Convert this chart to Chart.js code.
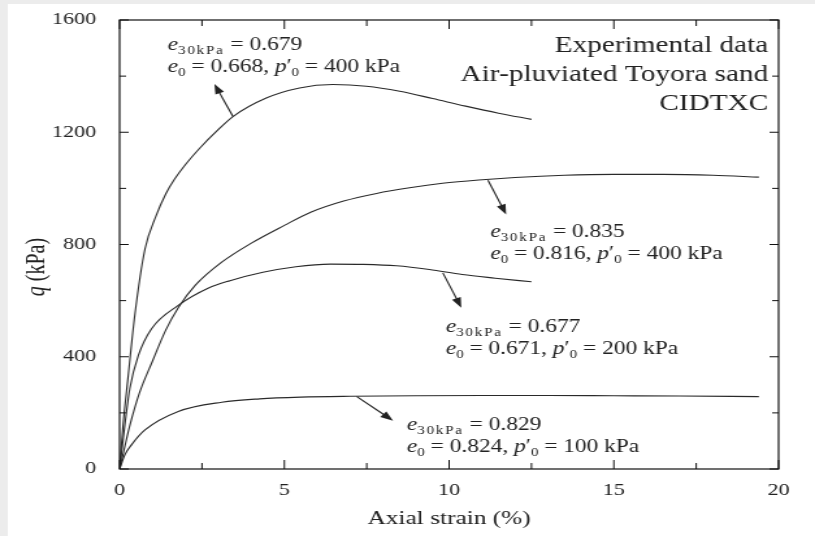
<!DOCTYPE html>
<html>
<head>
<meta charset="utf-8">
<script src="https://cdn.jsdelivr.net/npm/chart.js@4/dist/chart.umd.min.js"></script>
<style>
  html, body { margin: 0; padding: 0; background: #fff; }
  #chart { display: block; }
</style>
</head>
<body>
<!-- drawn at 627 wide and shown at 815 wide: the figure is horizontally stretched -->
<canvas id="chart" width="627" height="536" style="width:815px;height:536px"></canvas>
<script>
// axial strain (%) / deviator stress q (kPa), one pair per test
const strainDense400 = [0, 0.1, 0.26, 0.46, 0.77, 1.1, 1.4, 1.67, 2.0, 2.43, 3.0, 3.44, 4.45, 5.46, 6.47, 7.49, 8.5, 9.5, 10.5, 11.5, 12.5];
const qDense400      = [0, 150, 330, 547, 784, 900, 980, 1033, 1085, 1143, 1210, 1256, 1322, 1358, 1370, 1364, 1346, 1320, 1293, 1268, 1246];

const strainLoose400 = [0, 0.1, 0.3, 0.6, 1.0, 1.4, 1.78, 2.3, 3.1, 4.0, 5.0, 5.8, 6.8, 7.8, 8.8, 9.8, 10.9, 12.0, 13.5, 15.0, 16.5, 18.0, 19.4];
const qLoose400      = [0, 50, 150, 270, 385, 495, 575, 655, 737, 805, 868, 915, 955, 982, 1002, 1018, 1030, 1039, 1047, 1050, 1050, 1047, 1040];

const strainDense200 = [0, 0.16, 0.31, 0.57, 0.97, 1.78, 2.7, 3.35, 4.35, 5.35, 6.4, 7.4, 8.4, 9.4, 10.4, 11.4, 12.5];
const qDense200      = [0, 157, 287, 405, 500, 583, 645, 671, 701, 721, 730, 729, 724, 711, 693, 680, 667];

const strainLoose100 = [0, 0.16, 0.36, 0.77, 1.78, 3.1, 4.25, 5.5, 7.0, 9.0, 11.0, 13.0, 15.0, 17.0, 19.4];
const qLoose100      = [0, 51, 86, 139, 205, 238, 250, 256, 259, 261, 262, 262, 261, 260, 258];

const xTicks = [0, 5, 10, 15, 20];
const yTicks = [0, 400, 800, 1200, 1600];

const headerLines = ['Experimental data', 'Air-pluviated Toyora sand', 'CIDTXC'];

// e30kPa, e0, p'0 for each curve label
const labelE30 = ['0.679', '0.835', '0.677', '0.829'];
const labelE0  = ['0.668', '0.816', '0.671', '0.824'];
const labelP0  = ['400', '400', '200', '100'];

function toPoints(xs, ys) {
    const out = [];
    for (let i = 0; i < xs.length; ++i) {
        out.push({x: xs[i], y: ys[i]});
    }
    return out;
}

const FONT = '"Liberation Serif", "Times New Roman", serif';
const INK = '#222';

function curve(xs, ys) {
    return {
        data: toPoints(xs, ys),
        borderColor: '#2a2a2a',
        borderWidth: 1.1,
        pointRadius: 0,
        cubicInterpolationMode: 'monotone',
        fill: false
    };
}

// label placement in data units: text origin and arrow tail -> head
const notes = [
    {tx: 1.46, ty: 1493, a: [3.44, 1256, 2.88, 1372]},
    {tx: 11.25, ty: 826, a: [11.18, 1029, 11.73, 907]},
    {tx: 9.9, ty: 488, a: [9.81, 699, 10.37, 575]},
    {tx: 8.72, ty: 139, a: [7.2, 258, 8.3, 172]}
];

// text runs: italic letters, subscripts set smaller and a little spaced
function drawRuns(ctx, runs, x, y, size) {
    let cx = x;
    for (const r of runs) {
        const fs = r.sub ? size * 0.64 : size;
        ctx.font = (r.it ? 'italic ' : '') + fs + 'px ' + FONT;
        ctx.letterSpacing = r.sub && r.t.length > 1 ? '1.4px' : '0px';
        ctx.fillText(r.t, cx, y + (r.sub ? size * 0.22 : 0));
        cx += ctx.measureText(r.t).width;
    }
    ctx.letterSpacing = '0px';
}

function drawArrow(ctx, x1, y1, x2, y2) {
    const ang = Math.atan2(y2 - y1, x2 - x1);
    const len = 10, half = 3.6;
    ctx.beginPath();
    ctx.moveTo(x1, y1);
    ctx.lineTo(x2 - Math.cos(ang) * len * 0.8, y2 - Math.sin(ang) * len * 0.8);
    ctx.stroke();
    ctx.beginPath();
    ctx.moveTo(x2, y2);
    ctx.lineTo(x2 - Math.cos(ang) * len - Math.sin(ang) * half, y2 - Math.sin(ang) * len + Math.cos(ang) * half);
    ctx.lineTo(x2 - Math.cos(ang) * len + Math.sin(ang) * half, y2 - Math.sin(ang) * len - Math.cos(ang) * half);
    ctx.closePath();
    ctx.fill();
}

const paperPlugin = {
    id: 'paper',
    beforeDraw(chart) {
        const ctx = chart.ctx;
        ctx.save();
        ctx.fillStyle = '#ececec';
        ctx.fillRect(0, 0, chart.width, chart.height);
        ctx.fillStyle = '#ffffff';
        ctx.fillRect(6, 4, chart.width - 6, chart.height - 4);
        ctx.restore();
    },
    afterDraw(chart) {
        const ctx = chart.ctx;
        const xs = chart.scales.x, ys = chart.scales.y;
        const {left, right, top, bottom} = chart.chartArea;
        ctx.save();

        // frame
        ctx.strokeStyle = '#111';
        ctx.lineWidth = 1.2;
        ctx.strokeRect(left, top, right - left, bottom - top);

        // inward ticks on all four sides
        ctx.lineWidth = 1;
        ctx.beginPath();
        for (let v = 0; v <= 20; v += 2.5) {
            const px = xs.getPixelForValue(v);
            const len = v % 5 === 0 ? 9 : 6;
            ctx.moveTo(px, bottom); ctx.lineTo(px, bottom - len);
            ctx.moveTo(px, top); ctx.lineTo(px, top + len);
        }
        for (let v = 0; v <= 1600; v += 200) {
            const py = ys.getPixelForValue(v);
            const len = v % 400 === 0 ? 7 : 5;
            ctx.moveTo(left, py); ctx.lineTo(left + len, py);
            ctx.moveTo(right, py); ctx.lineTo(right - len, py);
        }
        ctx.stroke();

        // y axis title
        ctx.fillStyle = INK;
        ctx.save();
        ctx.translate(29, 267);
        ctx.rotate(-Math.PI / 2);
        ctx.textBaseline = 'middle';
        ctx.font = 'italic 20px ' + FONT;
        const qw = ctx.measureText('q').width + (ctx.font = '20px ' + FONT, ctx.measureText(' (kPa)').width);
        ctx.textAlign = 'left';
        drawRuns(ctx, [{t: 'q', it: 1}, {t: ' (kPa)'}], -qw / 2, 0, 20);
        ctx.restore();

        // header block, right aligned
        ctx.textAlign = 'right';
        ctx.textBaseline = 'alphabetic';
        ctx.font = '22.5px ' + FONT;
        headerLines.forEach((s, i) => ctx.fillText(s, right - 8, 52 + i * 29));

        // curve labels and arrows
        ctx.textAlign = 'left';
        ctx.strokeStyle = '#222';
        ctx.lineWidth = 1.1;
        notes.forEach((n, i) => {
            const x = xs.getPixelForValue(n.tx);
            const y = ys.getPixelForValue(n.ty);
            drawRuns(ctx, [{t: 'e', it: 1}, {t: '30kPa', sub: 1}, {t: ' = ' + labelE30[i]}], x, y, 18);
            drawRuns(ctx, [{t: 'e', it: 1}, {t: '0', sub: 1}, {t: ' = ' + labelE0[i] + ', '},
                {t: 'p', it: 1}, {t: '\u2032'}, {t: '0', sub: 1}, {t: ' = ' + labelP0[i] + ' kPa'}], x, y + 22, 18);
            drawArrow(ctx,
                xs.getPixelForValue(n.a[0]), ys.getPixelForValue(n.a[1]),
                xs.getPixelForValue(n.a[2]), ys.getPixelForValue(n.a[3]));
        });
        ctx.restore();
    }
};

const config = {
    type: 'line',
    data: {
        datasets: [
            curve(strainDense400, qDense400),
            curve(strainLoose400, qLoose400),
            curve(strainDense200, qDense200),
            curve(strainLoose100, qLoose100)
        ]
    },
    options: {
        responsive: false,
        animation: false,
        events: [],
        layout: {padding: {top: 20, right: 28, bottom: 0, left: 0}},
        plugins: {legend: {display: false}, tooltip: {enabled: false}},
        scales: {
            x: {
                type: 'linear',
                min: 0,
                max: 20,
                grid: {display: false},
                border: {display: false},
                afterBuildTicks: s => { s.ticks = xTicks.map(v => ({value: v})); },
                afterFit: s => { s.height = 67; s.paddingLeft = 0; s.paddingRight = 0; },
                ticks: {
                    padding: 3,
                    color: INK,
                    font: {family: FONT, size: 17},
                    callback: v => String(v)
                },
                title: {
                    display: true,
                    text: 'Axial strain (%)',
                    color: INK,
                    font: {family: FONT, size: 19.5},
                    padding: {top: 0, bottom: 5}
                }
            },
            y: {
                min: 0,
                max: 1600,
                grid: {display: false},
                border: {display: false},
                afterBuildTicks: s => { s.ticks = yTicks.map(v => ({value: v})); },
                afterFit: s => { s.width = 92; s.paddingTop = 0; s.paddingBottom = 0; },
                ticks: {
                    padding: 10,
                    color: INK,
                    font: {family: FONT, size: 17},
                    callback: v => String(v)
                }
            }
        }
    },
    plugins: [paperPlugin]
};

const chart1 = new Chart(document.getElementById('chart'), config);
</script>
</body>
</html>
